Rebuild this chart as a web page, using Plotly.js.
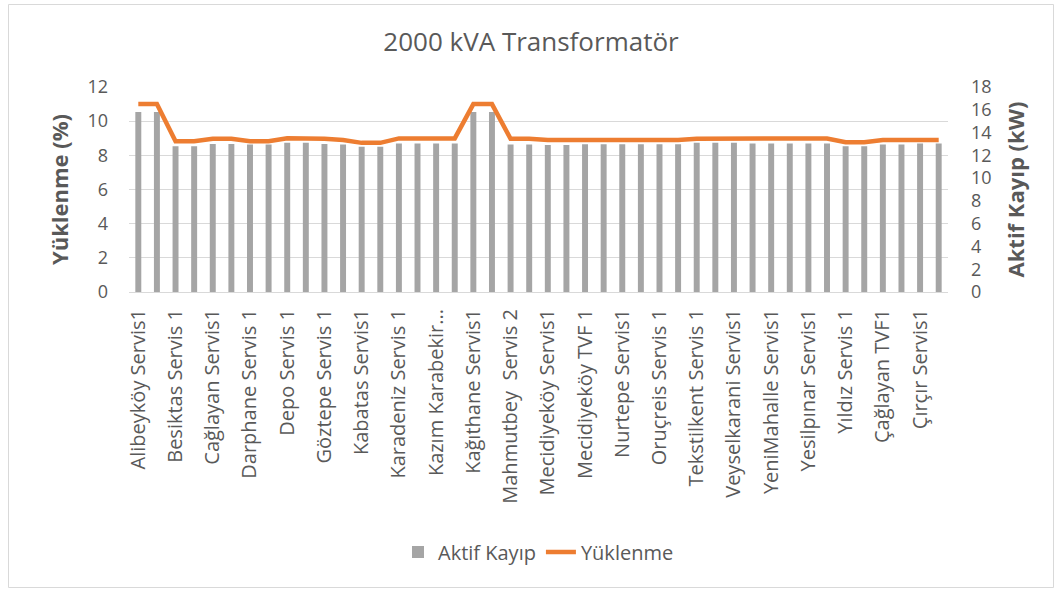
<!DOCTYPE html>
<html>
<head>
<meta charset="utf-8">
<script src="https://cdn.plot.ly/plotly-3.0.1.min.js"></script>
<style>html,body{margin:0;padding:0;background:#fff;}#chart{width:1062px;height:591px;}</style>
</head>
<body>
<div id="chart"></div>
<script>
const categories = [
  "Alibeyköy Servis1","Alibeyköy Servis2","Besiktas Servis 1","Besiktas Servis 2",
  "Cağlayan Servis1","Cağlayan Servis2","Darphane Servis 1","Darphane Servis 2",
  "Depo Servis 1","Depo Servis 2","Göztepe Servis 1","Göztepe Servis 2",
  "Kabatas Servis1","Kabatas Servis2","Karadeniz Servis 1","Karadeniz Servis 2",
  "Kazım Karabekir Servis 1","Kazım Karabekir Servis 2","Kağıthane Servis1","Kağıthane Servis2",
  "Mahmutbey  Servis 2","Mahmutbey  Servis 3","Mecidiyeköy Servis1","Mecidiyeköy Servis2",
  "Mecidiyeköy TVF 1","Mecidiyeköy TVF 2","Nurtepe Servis1","Nurtepe Servis2",
  "Oruçreis Servis 1","Oruçreis Servis 2","Tekstilkent Servis 1","Tekstilkent Servis 2",
  "Veyselkarani Servis1","Veyselkarani Servis2","YeniMahalle Servis1","YeniMahalle Servis2",
  "Yesilpınar Servis1","Yesilpınar Servis2","Yıldız Servis 1","Yıldız Servis 2",
  "Çağlayan TVF1","Çağlayan TVF2","Çırçır Servis1","Çırçır Servis2"
];
const tickLabels = [
  "Alibeyköy Servis1","Besiktas Servis 1","Cağlayan Servis1","Darphane Servis 1",
  "Depo Servis 1","Göztepe Servis 1","Kabatas Servis1","Karadeniz Servis 1",
  "Kazım Karabekir...","Kağıthane Servis1","Mahmutbey  Servis 2","Mecidiyeköy Servis1",
  "Mecidiyeköy TVF 1","Nurtepe Servis1","Oruçreis Servis 1","Tekstilkent Servis 1",
  "Veyselkarani Servis1","YeniMahalle Servis1","Yesilpınar Servis1","Yıldız Servis 1",
  "Çağlayan TVF1","Çırçır Servis1"
];
const aktifKayip = [
  15.8,15.8,12.8,12.8,13.0,13.0,12.95,12.95,13.1,13.1,
  13.0,12.95,12.75,12.75,13.05,13.05,13.05,13.05,15.8,15.8,
  12.95,12.95,12.9,12.9,12.97,12.97,12.97,12.97,12.97,12.97,
  13.1,13.1,13.1,13.05,13.05,13.05,13.05,13.05,12.8,12.8,
  12.95,12.95,13.05,13.05
];
const yuklenme = [
  11.0,11.0,8.83,8.83,8.97,8.97,8.83,8.83,9.0,9.0,
  8.97,8.9,8.73,8.73,8.99,8.99,8.99,8.99,11.0,11.0,
  8.97,8.97,8.9,8.9,8.9,8.9,8.9,8.9,8.9,8.9,
  8.97,8.97,8.97,8.99,8.99,8.99,8.99,8.99,8.77,8.77,
  8.9,8.9,8.9,8.9
];
const tickVals = categories.filter((c, i) => i % 2 === 0);

const txt = '#595959';
const fam = '"Open Sans", "Liberation Sans", sans-serif';
const plotL = 129, plotR = 948, plotT = 87, plotB = 292;
const W = 1062, H = 591;
const pw = plotR - plotL, ph = plotB - plotT;
const px = v => (v - plotL) / pw;
const py = v => (plotB - v) / ph;

const traces = [
  {
    type: 'bar', name: 'Aktif Kayıp', x: categories, y: aktifKayip,
    yaxis: 'y', marker: {color: '#A5A5A5'}, hoverinfo: 'x+y'
  },
  {
    type: 'scatter', mode: 'lines', name: 'Yüklenme', x: categories, y: yuklenme,
    yaxis: 'y2', line: {color: '#ED7D31', width: 4.5, shape: 'linear'}
  }
];

const layout = {
  width: W, height: H,
  margin: {l: plotL, r: W - plotR, t: plotT, b: H - plotB},
  paper_bgcolor: '#ffffff', plot_bgcolor: '#ffffff',
  font: {family: fam, color: txt, size: 19},
  title: {text: '2000 kVA Transformatör', font: {family: fam, size: 26, color: txt}, x: 0.5, xanchor: 'center', y: 1 - 42 / H, yanchor: 'middle'},
  bargap: 0.68,
  showlegend: true,
  legend: {orientation: 'h', x: 0.5, xanchor: 'center', y: py(552), yanchor: 'middle', font: {size: 20, color: txt}, traceorder: 'normal'},
  xaxis: {
    type: 'category', range: [-0.5, 43.5], tickmode: 'array', tickvals: tickVals, ticktext: tickLabels,
    tickangle: -90, tickfont: {size: 20, color: txt}, showgrid: false, zeroline: false,
    showline: true, linecolor: '#d9d9d9', linewidth: 1, ticks: '', ticklabelstandoff: 8, fixedrange: true
  },
  yaxis: {
    side: 'right', range: [0, 18], dtick: 2, tick0: 0, showgrid: false, zeroline: false,
    tickfont: {size: 18, color: txt}, ticks: '', ticklabelstandoff: 22,
    title: {text: 'Aktif Kayıp (kW)', font: {size: 22, color: txt, weight: 'bold'}, standoff: 18}
  },
  yaxis2: {
    side: 'left', overlaying: 'y', range: [0, 12], dtick: 2, tick0: 0,
    showgrid: true, gridcolor: '#d9d9d9', gridwidth: 1, zeroline: false,
    tickfont: {size: 18, color: txt}, ticks: '', ticklabelstandoff: 20,
    title: {text: 'Yüklenme (%)', font: {size: 22, color: txt, weight: 'bold'}, standoff: 12}
  },
  shapes: [
    {type: 'rect', xref: 'paper', yref: 'paper', x0: px(8.5), x1: px(1053.5), y0: py(4.5), y1: py(587.5),
     line: {color: '#d9d9d9', width: 1}, fillcolor: 'rgba(0,0,0,0)', layer: 'below'}
  ]
};

Plotly.newPlot('chart', traces, layout, {displayModeBar: false, staticPlot: true});
</script>
</body>
</html>
